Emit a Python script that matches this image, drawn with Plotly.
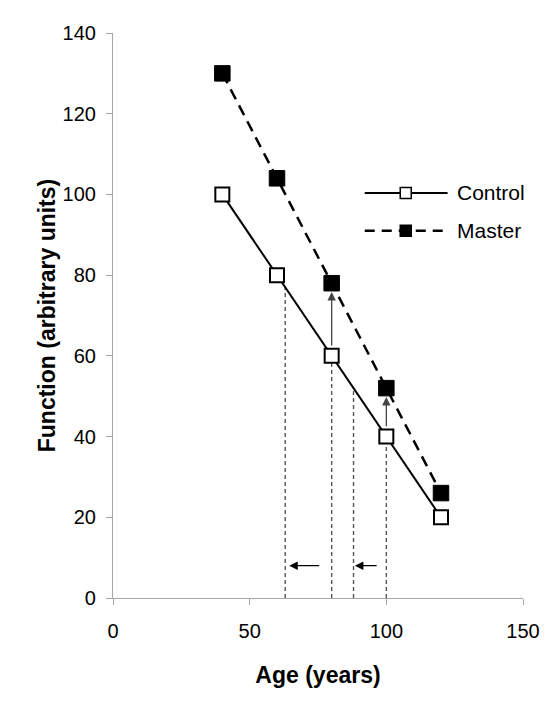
"""
Function vs age: Control and Master curves with shift arrows
"""
import plotly.graph_objects as go

# Data
age = [40, 60, 80, 100, 120]
control = [100, 80, 60, 40, 20]
master = [130, 104, 78, 52, 26]

# Dotted drop lines (x position, top value)
drop_x = [63, 80, 88, 100]
drop_top = [77, 60, 52, 40]

# Vertical shift arrows (control -> master) at these ages
shift_age = [80, 100]

# Horizontal "age gain" arrows at y = 8 (tail x, head x)
gain_y = 8
gain_tail = [76, 97]
gain_head = [64.5, 88.5]

FONT = "Liberation Sans, Arial, sans-serif"

fig = go.Figure()

# Dotted drop lines
for x, top in zip(drop_x, drop_top):
    fig.add_trace(go.Scatter(
        x=[x, x], y=[0, top], mode="lines",
        line=dict(color="#555555", width=1.4, dash="4px,3px"),
        showlegend=False, hoverinfo="skip"
    ))

# Control series
fig.add_trace(go.Scatter(
    x=age, y=control, mode="lines+markers", name="Control",
    line=dict(color="black", width=2),
    marker=dict(symbol="square", size=14, color="white",
                line=dict(color="black", width=2)),
    showlegend=False
))

# Master series
fig.add_trace(go.Scatter(
    x=age, y=master, mode="lines+markers", name="Master",
    line=dict(color="black", width=2.5, dash="11px,7px", shape="spline"),
    marker=dict(symbol="square", size=15.5, color="black",
                line=dict(color="black", width=1)),
    showlegend=False
))

# Custom legend drawn on an overlay axis (0..1 in both directions)
legend_names = ["Control", "Master"]
legend_y = [0.717, 0.650]
legend_styles = [
    (dict(color="black", width=2), "white"),
    (dict(color="black", width=2.5, dash="10px,7px"), "black"),
]
for name, ly, (lstyle, fill) in zip(legend_names, legend_y, legend_styles):
    fig.add_trace(go.Scatter(
        x=[0.614, 0.816], y=[ly, ly], mode="lines", line=lstyle,
        xaxis="x2", yaxis="y2", showlegend=False, hoverinfo="skip"
    ))
    fig.add_trace(go.Scatter(
        x=[0.714], y=[ly], mode="markers",
        marker=dict(symbol="square", size=11, color=fill,
                    line=dict(color="black", width=1.5)),
        xaxis="x2", yaxis="y2", showlegend=False, hoverinfo="skip"
    ))
    fig.add_annotation(
        x=0.833, y=ly, xref="x2", yref="y2", text=name, showarrow=False,
        xanchor="left", yanchor="middle",
        font=dict(family=FONT, size=21, color="black")
    )

# Vertical arrows from control up to master
for a in shift_age:
    i = age.index(a)
    fig.add_annotation(
        x=a, y=master[i] - 2.2, ax=a, ay=control[i] + 2.2,
        xref="x", yref="y", axref="x", ayref="y",
        showarrow=True, arrowhead=2, arrowsize=1.3, arrowwidth=1.3,
        arrowcolor="#444444", text="", standoff=0
    )

# Horizontal arrows pointing left
for tail, head in zip(gain_tail, gain_head):
    fig.add_annotation(
        x=head, y=gain_y, ax=tail, ay=gain_y,
        xref="x", yref="y", axref="x", ayref="y",
        showarrow=True, arrowhead=2, arrowsize=1.3, arrowwidth=1.3,
        arrowcolor="black", text="", standoff=0
    )

axis_common = dict(
    showgrid=False, zeroline=False, showline=True,
    linecolor="#a6a6a6", linewidth=1.2,
    ticks="outside", ticklen=6, tickcolor="#a6a6a6", tickwidth=1.2,
    tickfont=dict(family=FONT, size=20, color="black"),
)

# page body has an 8px margin, so margins are shifted accordingly
fig.update_layout(
    width=555, height=716,
    margin=dict(l=105, r=40, t=25, b=126),
    paper_bgcolor="white", plot_bgcolor="white",
    showlegend=False,
    xaxis=dict(
        range=[0, 150], tickvals=[0, 50, 100, 150],
        ticklabelstandoff=9,
        title=dict(text="<b>Age (years)</b>", standoff=25,
                   font=dict(family=FONT, size=23, color="black")),
        **axis_common
    ),
    yaxis=dict(
        range=[0, 140], tickvals=[0, 20, 40, 60, 80, 100, 120, 140],
        ticklabelstandoff=6,
        title=dict(text="<b>Function (arbitrary units)</b>", standoff=0,
                   font=dict(family=FONT, size=23, color="black")),
        **axis_common
    ),
    xaxis2=dict(overlaying="x", range=[0, 1], visible=False),
    yaxis2=dict(overlaying="y", range=[0, 1], visible=False),
)

fig.write_html("out.html")
